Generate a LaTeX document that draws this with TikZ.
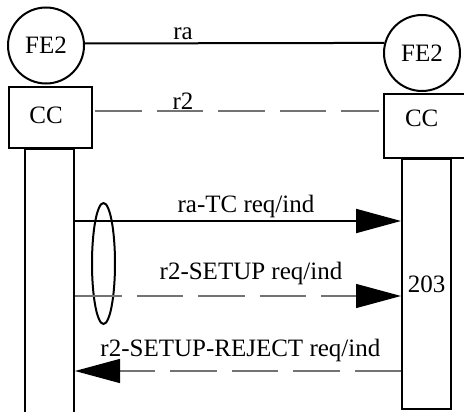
\documentclass[tikz,border=0pt]{standalone}
\usepackage{fontspec}
\setmainfont{Liberation Serif}
\usetikzlibrary{arrows.meta,shapes.geometric}
\begin{document}
\begin{tikzpicture}[x=1pt,y=-1pt,
  every node/.style={font=\fontsize{25}{30}\selectfont},
  fe/.style={draw,circle,line width=2pt,minimum size=76pt,inner sep=0pt},
  ccbox/.style={draw,rectangle,line width=2pt,minimum width=83pt,inner sep=0pt},
  lifebox/.style={draw,rectangle,line width=2pt,minimum width=49pt,inner sep=0pt},
  grpell/.style={draw,ellipse,line width=2pt,minimum width=23pt,minimum height=121pt,inner sep=0pt},
  solidline/.style={line width=2pt},
  dashline/.style={line width=1.4pt,draw=black!55,dash pattern=on 46.5pt off 15pt},
  bigtip/.style={-{Triangle[length=45pt,width=24pt,color=black]}},
  lbl/.style={anchor=base,inner sep=0pt}]
\useasboundingbox (0,0) rectangle (464,412);
\clip (0,0) rectangle (464,412);

% entities
\node[fe] (fel) at (46,45.5) {FE2};
\node[fe] (fer) at (422,53) {FE2};
\node[ccbox,minimum height=61pt] (ccl) at (50.5,117.5) {};
\node[ccbox,minimum height=64pt] (ccr) at (425.5,126) {};
\node[lbl] (ccltext) at (46,123.3) {CC};
\node[lbl] (ccrtext) at (421.7,126.7) {CC};

% lifelines
\node[lifebox,minimum height=280pt,anchor=north] (lifel) at (49.5,148) {};
\node[lifebox,minimum height=250pt,anchor=north] (act) at (426.5,158) {203};

% grouping ellipse
\node[grpell] (grp) at (103.5,263.5) {};

% relations
\draw[solidline] (fel.3.7) -- (fer.165.3);
\coordinate (r2y) at (0,111);
\draw[dashline] ([xshift=2pt]ccl.east |- r2y) -- ([xshift=-4pt]ccr.west |- r2y);
\node[lbl] (lra) at (183,40) {ra};
\node[lbl] (lr2) at (183,110) {r2};

% messages
\coordinate (m1) at (0,221);
\coordinate (m2) at (0,296);
\coordinate (m3) at (0,371);
\draw[solidline,bigtip] (lifel.east |- m1) -- (act.west |- m1);
\draw[dashline,bigtip] (lifel.east |- m2) -- (act.west |- m2);
\draw[dashline,bigtip] (act.west |- m3) -- (lifel.east |- m3);
\node[lbl] (l1) at (246,212) {ra-TC req/ind};
\node[lbl] (l2) at (251,279) {r2-SETUP req/ind};
\node[lbl] (l3) at (240.4,356.5) {r2-SETUP-REJECT req/ind};
\end{tikzpicture}
\end{document}
